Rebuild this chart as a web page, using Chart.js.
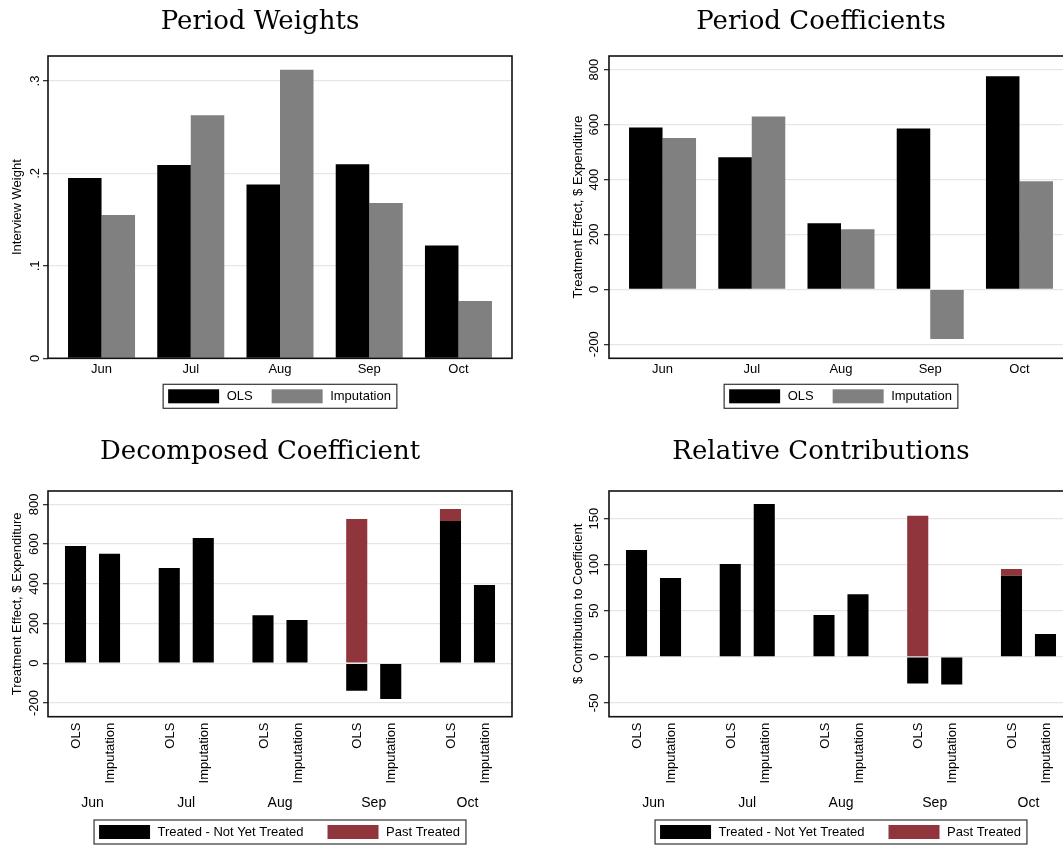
<!DOCTYPE html>
<html>
<head>
<meta charset="utf-8">
<title>Period weights and coefficients</title>
<script src="https://cdn.jsdelivr.net/npm/chart.js@4.4.1/dist/chart.umd.min.js"></script>
<style>
  html, body { margin: 0; padding: 0; width: 1063px; height: 846px; overflow: hidden; background: #fff; }
  canvas { position: absolute; }
</style>
</head>
<body>
<canvas id="weights" width="528" height="420" style="left:0;top:0"></canvas>
<canvas id="coefs" width="528" height="420" style="left:561px;top:0"></canvas>
<canvas id="decomp" width="528" height="416" style="left:0;top:430px"></canvas>
<canvas id="contrib" width="528" height="416" style="left:561px;top:430px"></canvas>
<script>
const months = ['Jun', 'Jul', 'Aug', 'Sep', 'Oct'];
const subLabels = ['OLS', 'Imputation'];

// top left: interview weights
const weightOls = [0.195, 0.209, 0.188, 0.210, 0.122];
const weightImp = [0.155, 0.263, 0.312, 0.168, 0.062];
const weightTicks = [0, 0.1, 0.2, 0.3];
const weightTickLabels = ['0', '.1', '.2', '.3'];

// top right: period coefficients
const coefOls = [590, 481, 241, 586, 776];
const coefImp = [551, 630, 219, -181, 394];
const coefTicks = [-200, 0, 200, 400, 600, 800];
const coefTickLabels = ['-200', '0', '200', '400', '600', '800'];

// bottom left: decomposed coefficient
const decompOlsNotYet = [590, 479, 241, -139, 716];
const decompOlsPast = [0, 0, 0, 726, 60];
const decompImpNotYet = [551, 630, 218, -180, 394];
const decompImpPast = [0, 0, 0, 0, 0];

// bottom right: relative contributions
const contribOlsNotYet = [116, 100.7, 45.3, -29, 88];
const contribOlsPast = [0, 0, 0, 153, 7.3];
const contribImpNotYet = [85.5, 166, 68, -30, 24.7];
const contribImpPast = [0, 0, 0, 0, 0];
const contribTicks = [-50, 0, 50, 100, 150];
const contribTickLabels = ['-50', '0', '50', '100', '150'];

const BLACK = '#000000';
const GRAY = '#808080';
const RED = '#90353b';
const SANS = '"Liberation Sans", Arial, sans-serif';

Chart.defaults.font.family = SANS;
Chart.defaults.font.size = 13;
Chart.defaults.color = '#000';

const stataDecor = {
  id: 'stataDecor',
  afterDraw(chart, args, o) {
    const ctx = chart.ctx;
    const area = chart.chartArea;
    const y = chart.scales.y;
    ctx.save();

    // frame round the plot region
    ctx.strokeStyle = '#111';
    ctx.lineWidth = 1.6;
    ctx.strokeRect(area.left, area.top, area.right - area.left, area.bottom - area.top);

    // vertical y tick labels, Stata style
    ctx.font = '13px ' + SANS;
    ctx.fillStyle = '#000';
    ctx.textAlign = 'center';
    ctx.textBaseline = 'alphabetic';
    y.ticks.forEach((t, i) => {
      ctx.save();
      ctx.translate(o.yLabelX, y.getPixelForValue(t.value));
      ctx.rotate(-Math.PI / 2);
      ctx.fillText(o.yLabels[i], 0, 0);
      ctx.restore();
    });

    // OLS / Imputation under each bar
    if (o.subLabels) {
      ctx.textAlign = 'right';
      o.barSets.forEach((di, k) => {
        chart.getDatasetMeta(di).data.forEach(bar => {
          ctx.save();
          ctx.translate(bar.x + 4.6, area.bottom + 6);
          ctx.rotate(-Math.PI / 2);
          ctx.fillText(o.subLabels[k], 0, 0);
          ctx.restore();
        });
      });
    }

    // boxed legend below the axis
    const items = chart.data.datasets.slice(0, 2);
    const widths = items.map(d => ctx.measureText(d.label).width);
    const total = 5 + 2 * (51 + 7.5) + widths[0] + widths[1] + o.legendGap + 6;
    let x = (area.left + area.right) / 2 - total / 2;
    const top = area.bottom + o.legendTop;
    ctx.strokeStyle = '#333';
    ctx.lineWidth = 1.2;
    ctx.strokeRect(x, top, total, 24);
    x += 5;
    ctx.textAlign = 'left';
    ctx.textBaseline = 'middle';
    items.forEach((d, i) => {
      ctx.fillStyle = d.backgroundColor;
      ctx.fillRect(x, top + 5, 51, 14);
      x += 51 + 7.5;
      ctx.fillStyle = '#000';
      ctx.fillText(d.label, x, top + 12.5);
      x += widths[i] + o.legendGap;
    });
    ctx.restore();
  }
};

function points(arr) {
  return arr.map((v, i) => ({ x: i, y: v }));
}

function makeOptions(p) {
  return {
    responsive: false,
    animation: false,
    layout: { padding: { left: 8, right: 16, top: 0, bottom: p.padBottom } },
    datasets: { bar: { categoryPercentage: p.catPct, barPercentage: p.barPct, borderWidth: 0 } },
    plugins: {
      legend: { display: false },
      tooltip: { enabled: false },
      title: {
        display: true,
        text: p.title,
        color: '#000',
        font: { family: '"DejaVu Serif", serif', size: 26, weight: 'normal' },
        padding: { top: 6.4, bottom: p.titleGap }
      },
      stataDecor: {
        yLabels: p.yLabels,
        yLabelX: p.yLabelX,
        legendTop: p.legendTop,
        legendGap: p.legendGap,
        subLabels: p.subLabels,
        barSets: [0, 2]
      }
    },
    scales: {
      x: {
        type: 'linear',
        min: p.xMin,
        max: p.xMax,
        stacked: p.stacked,
        offset: false,
        grid: { display: false, drawTicks: false },
        border: { display: false },
        afterBuildTicks: s => { s.ticks = months.map((m, i) => ({ value: i })); },
        afterFit: s => {
          s.height = p.xHeight;
          // month labels sit well inside the plot, no side padding needed
          s.paddingLeft = 0;
          s.paddingRight = 0;
        },
        ticks: {
          padding: p.xPad,
          autoSkip: false,
          maxRotation: 0,
          font: { size: p.xFont },
          color: '#000',
          callback: (v, i) => months[i]
        }
      },
      y: {
        min: p.yMin,
        max: p.yMax,
        stacked: p.stacked,
        grid: { color: '#e6e6e6', lineWidth: 1.3, tickLength: 5, tickColor: '#333', tickWidth: 1.3 },
        border: { display: false },
        afterBuildTicks: s => { s.ticks = p.yTicks.map(v => ({ value: v })); },
        afterFit: s => { s.width = 40; },
        ticks: { display: false },
        title: { display: true, text: p.yTitle, color: '#000', font: { size: 13 }, padding: { top: 2, bottom: 0 } }
      }
    }
  };
}

const topBase = {
  xMin: -0.6, xMax: 4.6, catPct: 0.751, barPct: 1, stacked: false,
  padBottom: 39.7, titleGap: 18.4, xHeight: 22, xPad: 3, xFont: 13,
  legendTop: 26, legendGap: 19, subLabels: null
};
const bottomBase = {
  xMin: -0.475, xMax: 4.475, catPct: 0.7254, barPct: 0.62, stacked: true,
  padBottom: 29.3, titleGap: 23.4, xHeight: 100, xPad: 78.4, xFont: 14,
  legendTop: 103.3, legendGap: 24, subLabels: subLabels
};

new Chart(document.getElementById('weights'), {
  type: 'bar',
  data: {
    datasets: [
      { label: 'OLS', data: points(weightOls), backgroundColor: BLACK },
      { label: 'Imputation', data: points(weightImp), backgroundColor: GRAY }
    ]
  },
  options: makeOptions(Object.assign({}, topBase, {
    title: 'Period Weights', yTitle: 'Interview Weight',
    yMin: 0, yMax: 0.327, yTicks: weightTicks, yLabels: weightTickLabels, yLabelX: 39
  })),
  plugins: [stataDecor]
});

new Chart(document.getElementById('coefs'), {
  type: 'bar',
  data: {
    datasets: [
      { label: 'OLS', data: points(coefOls), backgroundColor: BLACK },
      { label: 'Imputation', data: points(coefImp), backgroundColor: GRAY }
    ]
  },
  options: makeOptions(Object.assign({}, topBase, {
    title: 'Period Coefficients', yTitle: 'Treatment Effect, $ Expenditure',
    yMin: -251, yMax: 850, yTicks: coefTicks, yLabels: coefTickLabels, yLabelX: 36.5
  })),
  plugins: [stataDecor]
});

new Chart(document.getElementById('decomp'), {
  type: 'bar',
  data: {
    datasets: [
      { label: 'Treated - Not Yet Treated', data: points(decompOlsNotYet), backgroundColor: BLACK, stack: 'ols' },
      { label: 'Past Treated', data: points(decompOlsPast), backgroundColor: RED, stack: 'ols' },
      { label: 'Treated - Not Yet Treated', data: points(decompImpNotYet), backgroundColor: BLACK, stack: 'imp' },
      { label: 'Past Treated', data: points(decompImpPast), backgroundColor: RED, stack: 'imp' }
    ]
  },
  options: makeOptions(Object.assign({}, bottomBase, {
    title: 'Decomposed Coefficient', yTitle: 'Treatment Effect, $ Expenditure',
    yMin: -269, yMax: 867, yTicks: coefTicks, yLabels: coefTickLabels, yLabelX: 38
  })),
  plugins: [stataDecor]
});

new Chart(document.getElementById('contrib'), {
  type: 'bar',
  data: {
    datasets: [
      { label: 'Treated - Not Yet Treated', data: points(contribOlsNotYet), backgroundColor: BLACK, stack: 'ols' },
      { label: 'Past Treated', data: points(contribOlsPast), backgroundColor: RED, stack: 'ols' },
      { label: 'Treated - Not Yet Treated', data: points(contribImpNotYet), backgroundColor: BLACK, stack: 'imp' },
      { label: 'Past Treated', data: points(contribImpPast), backgroundColor: RED, stack: 'imp' }
    ]
  },
  options: makeOptions(Object.assign({}, bottomBase, {
    title: 'Relative Contributions', yTitle: '$ Contribution to Coefficient',
    yMin: -65, yMax: 180, yTicks: contribTicks, yLabels: contribTickLabels, yLabelX: 36.5
  })),
  plugins: [stataDecor]
});
</script>
</body>
</html>
